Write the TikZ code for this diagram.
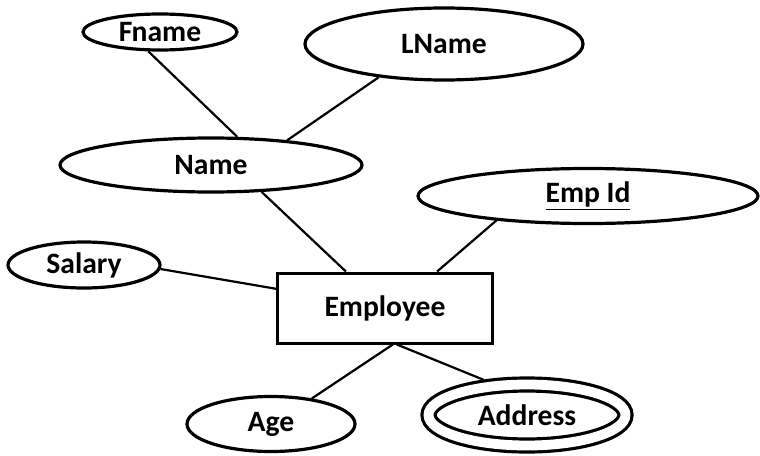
\documentclass[tikz,border=0pt]{standalone}
\usepackage{fontspec}
\setmainfont{Carlito}
\usetikzlibrary{shapes.geometric}
\newcommand\erfont{\fontsize{14.8}{17}\selectfont\bfseries}
\tikzset{
  attribute/.style={draw,ellipse,line width=1.6pt,inner sep=0pt,font=\erfont},
  entity/.style={draw,rectangle,line width=1.5pt,inner sep=0pt,font=\erfont},
  multivalued/.style={attribute,double,double distance=4.9pt,outer sep=4.05pt},
  link/.style={line width=1.1pt},
}

\begin{document}
\begin{tikzpicture}[x=0.5pt,y=-0.5pt]
\useasboundingbox (0,0) rectangle (760,455);
\node[attribute,minimum width=77pt,minimum height=18pt] (fname) at (160,32) {Fname};
\node[attribute,minimum width=139pt,minimum height=36pt] (lname) at (444,44) {LName};
\node[attribute,minimum width=151pt,minimum height=27pt] (name) at (211,165) {Name};
\node[attribute,minimum width=170pt,minimum height=27.5pt] (empid) at (588,196) {\underline{Emp Id}};
\node[attribute,minimum width=76pt,minimum height=23pt] (salary) at (84,265) {Salary};
\node[entity,minimum width=107.5pt,minimum height=35pt] (emp) at (385,308) {Employee};
\node[attribute,minimum width=84pt,minimum height=27.5pt] (age) at (271,424) {Age};
\node[multivalued,minimum width=98.5pt,minimum height=30.5pt] (address) at (527,415) {Address};
\foreach \from/\to in {fname.239/name.47, lname.207/name.18, name.332/emp.137,
  empid.195/emp.35, salary.357/emp.170, emp.282/age.32, emp.288/address.141}
{
  \draw[link] (\from) -- (\to);
}
\end{tikzpicture}
\end{document}
